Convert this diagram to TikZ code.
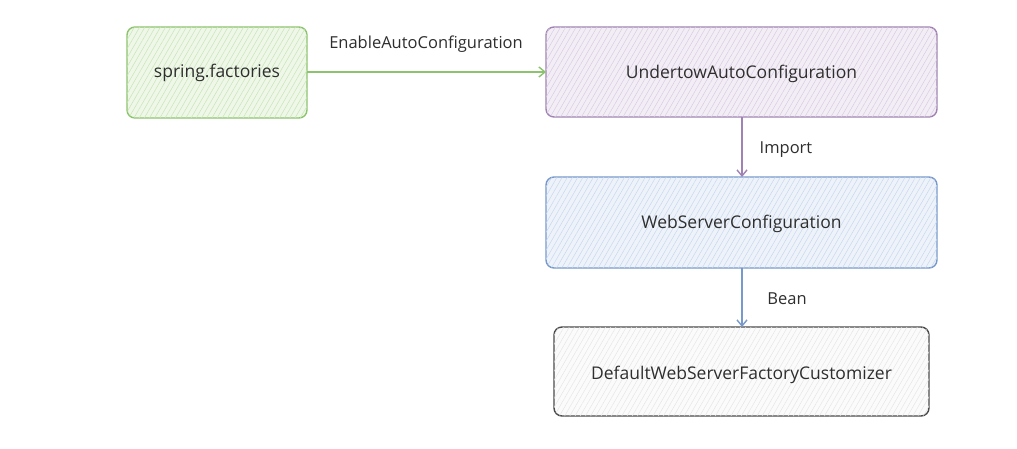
\documentclass[tikz,border=0pt]{standalone}
\usepackage{fontspec}
\setmainfont{Open Sans}
\usetikzlibrary{patterns.meta,arrows.meta}
\definecolor{gborder}{HTML}{8CC46D}
\definecolor{gfill}{HTML}{EEF7E8}
\definecolor{ghatch}{HTML}{C9E5B8}
\definecolor{pborder}{HTML}{A083B2}
\definecolor{pfill}{HTML}{F3EEF6}
\definecolor{phatch}{HTML}{D9CCE2}
\definecolor{bborder}{HTML}{7799CB}
\definecolor{bfill}{HTML}{EEF3FA}
\definecolor{bhatch}{HTML}{C8D7EE}
\definecolor{kborder}{HTML}{4A4A4A}
\definecolor{kfill}{HTML}{FBFBFB}
\definecolor{khatch}{HTML}{E6E6E6}
\definecolor{txt}{HTML}{2E2E2E}
\tikzset{
  boxbase/.style={rounded corners=8pt, line width=1.4pt, inner sep=0pt},
  hatchbox/.style n args={3}{boxbase, draw=#1, fill=#2,
     postaction={pattern={Lines[angle=60,distance=4.5pt,line width=0.5pt]}, pattern color=#3}},
  conn/.style={line width=1.4pt, -{Straight Barb[length=6pt,width=10pt,line width=1.4pt]}},
  lbl/.style={text=txt, font=\fontsize{16.5}{18}\selectfont, inner sep=0pt},
}
\begin{document}
\begin{tikzpicture}[x=1pt,y=-1pt]
\useasboundingbox (0,0) rectangle (1017,449);
\path[hatchbox={gborder}{gfill}{ghatch}] (127,27) rectangle (307,118);
\node[lbl, font=\fontsize{17.5}{19}\selectfont] (sf) at (217,73) {spring.factories};
\coordinate (sfR) at (307,72);
\path[hatchbox={pborder}{pfill}{phatch}] (546,27) rectangle (937,117);
\node[lbl, font=\fontsize{17.5}{19}\selectfont] (uac) at (741.5,73.5) {UndertowAutoConfiguration};
\coordinate (uacL) at (546,72);
\coordinate (uacB) at (742,117);
\path[hatchbox={bborder}{bfill}{bhatch}] (546,177) rectangle (937,268);
\node[lbl, font=\fontsize{17.5}{19}\selectfont] (wsc) at (741.5,223.5) {WebServerConfiguration};
\coordinate (wscT) at (742,177);
\coordinate (wscB) at (742,268);
\path[hatchbox={kborder}{kfill}{khatch}] (554,327) rectangle (929,416);
\node[lbl, font=\fontsize{17.5}{19}\selectfont] (dws) at (741.5,375) {DefaultWebServerFactoryCustomizer};
\coordinate (dwsT) at (742,327);
\draw[conn, draw=gborder] (sfR) -- (uacL);
\node[lbl] (l1) at (426,44.5) {EnableAutoConfiguration};
\draw[conn, draw=pborder] (uacB) -- (wscT);
\node[lbl] (l2) at (786,149.5) {Import};
\draw[conn, draw=bborder] (wscB) -- (dwsT);
\node[lbl] (l3) at (787,299) {Bean};
\end{tikzpicture}
\end{document}
